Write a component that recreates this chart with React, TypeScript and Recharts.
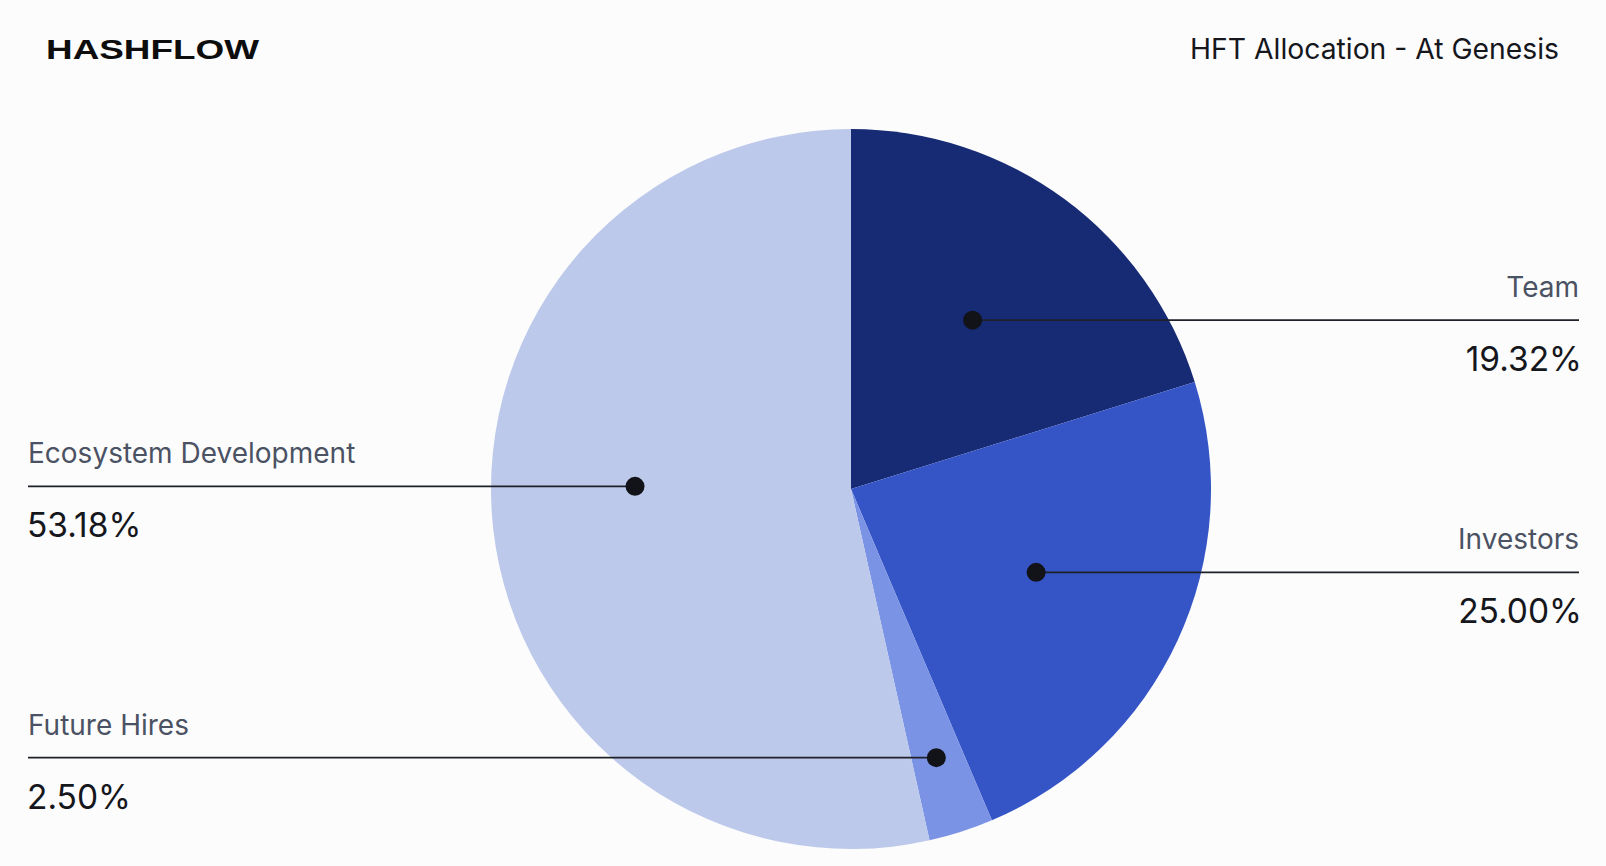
import React from 'react';
import { PieChart, Pie, Cell } from 'recharts';

const categories = ['Team', 'Investors', 'Future Hires', 'Ecosystem Development'];
// slice sizes as drawn in the graphic (the printed figures are a little off from the arc sizes)
const sliceShares = [20.2, 23.4, 2.9, 53.5];
const printedShares = ['19.32%', '25.00%', '2.50%', '53.18%'];

const sliceColors = ['#172a74', '#3555c7', '#7b93e5', '#bcc9eb'];

// where the marker dot sits inside each slice (fraction of radius, angle nudge)
const dotPlacement: Record<string, { r: number; nudge: number; side: 'left' | 'right' }> = {
  Team: { r: 0.578, nudge: 0.6, side: 'right' },
  Investors: { r: 0.564, nudge: 0.6, side: 'right' },
  'Future Hires': { r: 0.783, nudge: -0.2, side: 'left' },
  'Ecosystem Development': { r: 0.6, nudge: -7, side: 'left' },
};

const chartData = categories.map((name, i) => ({
  name,
  value: sliceShares[i],
  label: printedShares[i],
  color: sliceColors[i],
}));

const W = 1606;
const H = 866;
const RAD = Math.PI / 180;

const renderLabel = (props: any) => {
  const { cx, cy, midAngle, outerRadius, name, payload } = props;
  const place = dotPlacement[name];
  const angle = midAngle + place.nudge;
  const r = outerRadius * place.r;
  const x = cx + r * Math.cos(-angle * RAD);
  const y = cy + r * Math.sin(-angle * RAD);
  const right = place.side === 'right';
  const edge = right ? 1579 : 28;
  return (
    <g key={name}>
      <line x1={x} y1={y} x2={edge} y2={y} stroke="#1f2128" strokeWidth={1.6} />
      <circle cx={x} cy={y} r={9.5} fill="#111318" />
      <text
        x={edge}
        y={y - 23}
        textAnchor={right ? 'end' : 'start'}
        fontSize={28}
        fill="#4b5263"
        fontFamily="Inter, sans-serif"
      >
        {name}
      </text>
      <text
        x={right ? edge + 3 : edge - 1}
        y={y + 51}
        textAnchor={right ? 'end' : 'start'}
        fontSize={33.5}
        fill="#15171c"
        fontFamily="Inter, sans-serif"
      >
        {payload.label}
      </text>
    </g>
  );
};

export default function App() {
  return (
    <div
      style={{
        position: 'absolute',
        left: 0,
        top: 0,
        width: W,
        height: H,
        background: '#fcfcfc',
        overflow: 'hidden',
      }}
    >
      <PieChart width={W} height={H} margin={{ top: 0, right: 0, bottom: 0, left: 0 }}>
        <Pie
          data={chartData}
          dataKey="value"
          nameKey="name"
          cx={851}
          cy={489}
          outerRadius={360}
          startAngle={90}
          endAngle={-270}
          stroke="none"
          labelLine={false}
          label={renderLabel}
          isAnimationActive={false}
        >
          {chartData.map((entry) => (
            <Cell key={entry.name} fill={entry.color} />
          ))}
        </Pie>
      </PieChart>
      <svg
        width={W}
        height={H}
        style={{ position: 'absolute', left: 0, top: 0, pointerEvents: 'none' }}
      >
        <text
          x={46}
          y={59}
          fontSize={28}
          fontWeight={700}
          fill="#0d0d0d"
          fontFamily="'Liberation Sans', Arial, sans-serif"
          textLength={213}
          lengthAdjust="spacingAndGlyphs"
        >
          HASHFLOW
        </text>
        <text
          x={1559}
          y={59}
          textAnchor="end"
          fontSize={28.3}
          fill="#15171c"
          fontFamily="Inter, sans-serif"
        >
          HFT Allocation - At Genesis
        </text>
      </svg>
    </div>
  );
}
